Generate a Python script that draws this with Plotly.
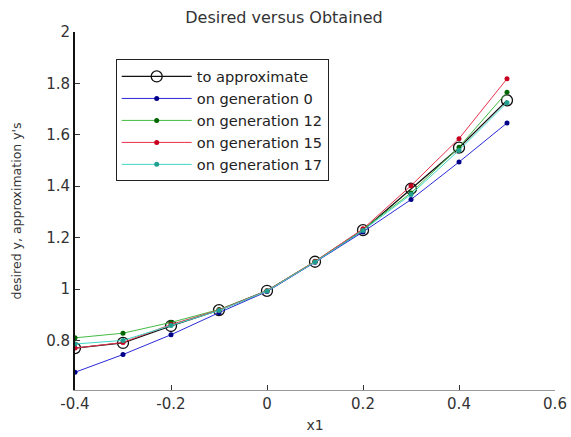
import plotly.graph_objects as go

x = [-0.4, -0.3, -0.2, -0.1, 0.0, 0.1, 0.2, 0.3, 0.4, 0.5]
target = [0.770, 0.790, 0.856, 0.918, 0.993, 1.106, 1.229, 1.390, 1.550, 1.734]
gen0 = [0.676, 0.745, 0.822, 0.908, 0.990, 1.104, 1.222, 1.348, 1.494, 1.646]
gen12 = [0.810, 0.828, 0.870, 0.920, 0.993, 1.108, 1.232, 1.374, 1.552, 1.766]
gen15 = [0.770, 0.792, 0.862, 0.918, 0.993, 1.107, 1.234, 1.402, 1.585, 1.818]
gen17 = [0.786, 0.800, 0.858, 0.916, 0.992, 1.105, 1.228, 1.368, 1.540, 1.725]

names = ["to approximate", "on generation 0", "on generation 12", "on generation 15", "on generation 17"]
xtick_vals = [-0.4, -0.2, 0.0, 0.2, 0.4, 0.6]
xtick_text = ["-0.4", "-0.2", "0", "0.2", "0.4", "0.6"]
ytick_vals = [0.8, 1.0, 1.2, 1.4, 1.6, 1.8, 2.0]
ytick_text = ["0.8", "1", "1.2", "1.4", "1.6", "1.8", "2"]

FONT = "DejaVu Sans, Verdana, sans-serif"

fig = go.Figure()
fig.add_trace(go.Scatter(x=x, y=target, name=names[0], mode="lines+markers",
                         line=dict(color="#111111", width=1.3),
                         marker=dict(symbol="circle-open", size=11, color="#111111", line=dict(width=1.3))))
styles = [
    (gen0, "#2a2ad8", "#000088"),
    (gen12, "#44bb44", "#006600"),
    (gen15, "#e8304a", "#c80020"),
    (gen17, "#40d8c8", "#20a090"),
]
for (vals, lc, mc), nm in zip(styles, names[1:]):
    fig.add_trace(go.Scatter(x=x, y=vals, name=nm, mode="lines+markers",
                             line=dict(color=lc, width=1),
                             marker=dict(symbol="circle", size=5, color=mc)))

fig.update_layout(
    width=571, height=437,
    margin=dict(l=75, r=16, t=31.5, b=47, autoexpand=False),
    paper_bgcolor="white", plot_bgcolor="white",
    font=dict(family=FONT, size=15, color="#333333"),
    title=dict(text="Desired versus Obtained", x=(284 - 75) / 480, xref="paper", xanchor="center",
               y=1 - 17 / 437, yanchor="middle", font=dict(family=FONT, size=16, color="#333333")),
    showlegend=True,
    legend=dict(x=(115.7 - 75) / 480, y=(390 - 59) / 358.5, xanchor="left", yanchor="top",
                bgcolor="white", bordercolor="#222222", borderwidth=1, itemwidth=70,
                font=dict(family=FONT, size=14.6, color="#222222"), tracegroupgap=0),
)
fig.update_xaxes(range=[-0.4, 0.6], tickvals=xtick_vals, ticktext=xtick_text, automargin=False,
                 ticks="inside", ticklen=5, tickcolor="#333333", showgrid=False, zeroline=False,
                 showline=True, linecolor="#999999", linewidth=1, mirror=False,
                 tickfont=dict(family=FONT, size=15, color="#333333"),
                 title=dict(text="x1", font=dict(family=FONT, size=14, color="#333333"), standoff=8))
fig.update_yaxes(range=[0.607, 2.0], tickvals=ytick_vals, ticktext=ytick_text, automargin=False,
                 ticks="inside", ticklen=5, tickcolor="#333333", showgrid=False, zeroline=False,
                 showline=True, linecolor="#111111", linewidth=2, mirror=False,
                 tickfont=dict(family=FONT, size=15, color="#333333"),
                 title=dict(text="desired y, approximation y's", font=dict(family=FONT, size=12.5, color="#333333"), standoff=22))

fig.write_html("out.html")
